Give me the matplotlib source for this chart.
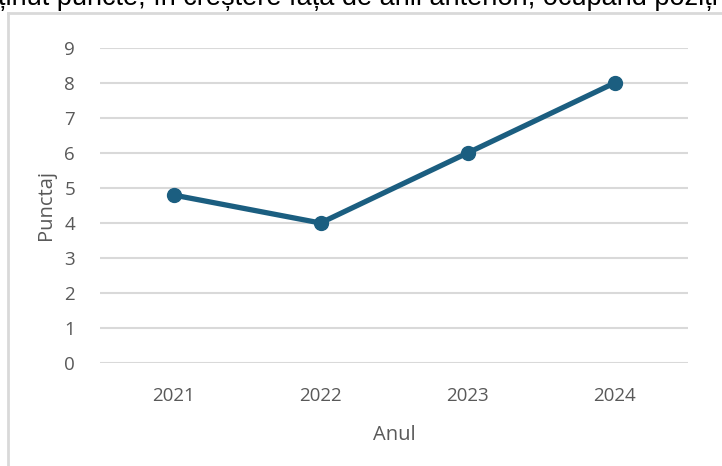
import matplotlib
matplotlib.use("Agg")
import matplotlib.pyplot as plt
from matplotlib.lines import Line2D

years = ["2021", "2022", "2023", "2024"]
scores = [4.8, 4.0, 6.0, 8.0]
y_ticks = list(range(0, 10))
x_label = "Anul"
y_label = "Punctaj"
top_text = "ținut puncte, în creștere față de anii anteriori, ocupând poziți"

W, H = 722, 466
fig = plt.figure(figsize=(W / 100, H / 100), dpi=100)
plt.rcParams['font.family'] = ['Open Sans', 'DejaVu Sans']

def fx(px):
    return px / W

def fy(py):
    return 1 - py / H

ax = fig.add_axes([fx(100), fy(363), fx(688) - fx(100), fy(48) - fy(363)])
x = list(range(len(years)))
ax.plot(x, scores, color="#1B5E80", linewidth=3.8, marker="o", markersize=10,
        markerfacecolor="#1B5E80", markeredgecolor="#1B5E80", solid_capstyle="round", zorder=3)
ax.set_xlim(-0.5, len(years) - 0.5)
ax.set_ylim(0, 9)
ax.set_yticks(y_ticks)
ax.set_xticks(x)
ax.set_xticklabels(years)
ax.grid(axis="y", color="#D9D9D9", linewidth=1.5)
ax.set_axisbelow(True)
for s in ax.spines.values():
    s.set_visible(False)
ax.tick_params(axis="both", length=0, labelsize=13.5, labelcolor="#595959")
ax.tick_params(axis="y", pad=18)
ax.tick_params(axis="x", pad=17)
ax.set_xlabel(x_label, fontsize=14.5, color="#595959", labelpad=15)
ax.set_ylabel(y_label, fontsize=14.5, color="#595959", labelpad=6)

# chart border (partially visible)
fig.add_artist(Line2D([fx(8), fx(8)], [fy(13), 0], color="#D9D9D9", linewidth=2))
fig.add_artist(Line2D([fx(8), 1], [fy(13), fy(13)], color="#D9D9D9", linewidth=2))

fig.text(fx(-2), fy(5), top_text, fontsize=19.5, color="#000000", ha="left", va="baseline",
         family=["Liberation Sans", "DejaVu Sans"])

fig.savefig("out.png", dpi=100)
